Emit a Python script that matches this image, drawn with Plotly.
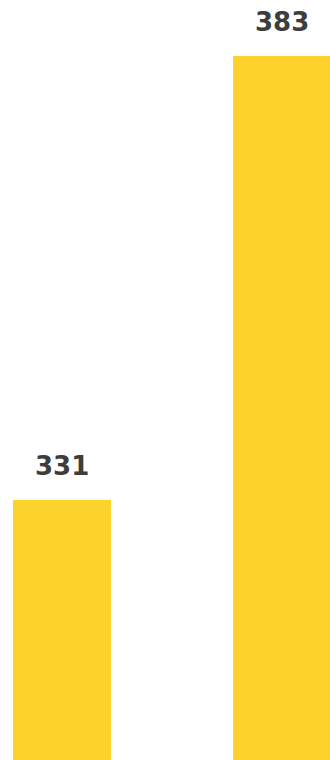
import plotly.graph_objects as go

categories = ["A", "B"]
values = [331, 383]
labels = ["331", "383"]

W, H = 330, 760
# horizontal scale: bar centres at 62 px and 282 px
px_per_cat = 220.0
x0 = -62.0 / px_per_cat
x1 = (W - 62.0) / px_per_cat
bar_w = 98.0 / px_per_cat

# vertical scale: value axis does not start at zero
y_base = 300.55
px_per_unit = 444.0 / 52.0
y_top = y_base + H / px_per_unit

xs = list(range(len(categories)))

fig = go.Figure(
    go.Bar(
        x=xs,
        y=[v - y_base for v in values],
        base=y_base,
        width=bar_w,
        marker=dict(color="#FDD22B", line=dict(width=0)),
        hoverinfo="skip",
    )
)

# value labels floating above each bar
for xi, v, lab in zip(xs, values, labels):
    fig.add_annotation(
        x=xi, y=v, text=lab, showarrow=False,
        xanchor="center", yanchor="bottom", yshift=17,
        font=dict(family="DejaVu Sans", size=26, color="#3d3d3d", weight="bold"),
    )

fig.update_layout(
    width=W,
    height=H,
    margin=dict(l=0, r=0, t=0, b=0),
    paper_bgcolor="white",
    plot_bgcolor="white",
    showlegend=False,
    xaxis=dict(range=[x0, x1], visible=False, fixedrange=True),
    yaxis=dict(range=[y_base, y_top], visible=False, fixedrange=True),
)

fig.write_html("out.html", config={"displayModeBar": False})
